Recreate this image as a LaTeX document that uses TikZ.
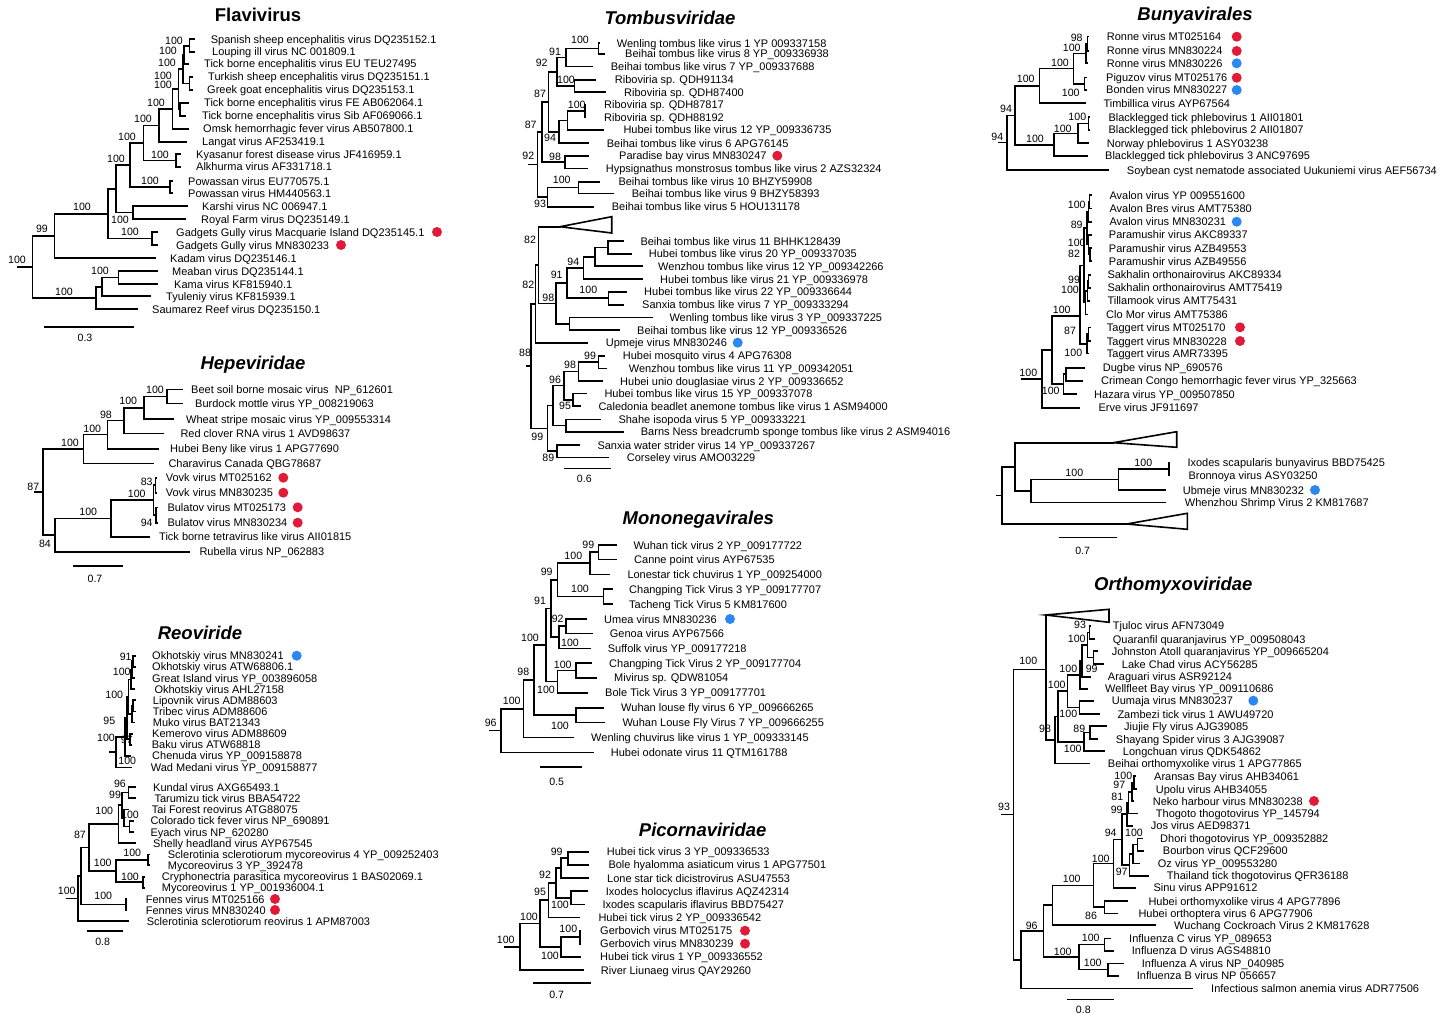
\documentclass[tikz,border=0pt]{standalone}
\usepackage{fontspec}
\setmainfont{Liberation Sans}
\definecolor{dred}{RGB}{226,26,58}
\definecolor{dblue}{RGB}{45,135,240}
\tikzset{
  br/.style={line width=1.6pt,line join=miter,line cap=rect},
  lab/.style={anchor=west,inner sep=0pt,text height=8pt,text depth=0pt,font=\fontsize{11}{12}\selectfont},
  bsl/.style={inner sep=0pt,text height=7.5pt,text depth=0pt,font=\fontsize{10.6}{12}\selectfont},
  ttl/.style={inner sep=0pt,font=\fontsize{18.5}{20}\selectfont\bfseries\itshape},
  ttlu/.style={inner sep=0pt,font=\fontsize{18.5}{20}\selectfont\bfseries},
  vdot/.style={circle,inner sep=0pt,minimum size=10pt},
  tri/.style={line width=1.6pt,line join=miter}
}
\newcommand{\tlf}[5]{\coordinate (#1) at (#2,#3);\node[lab] (#1t) at (#4,#3) {#5};}
\newcommand{\tnd}[5]{\coordinate (#1) at (#2,#3);\draw[br] (#4) -| (#1) |- (#5);}
\newcommand{\tbs}[4]{\node[bsl] (#1) at (#2,#3) {#4};}
\newcommand{\tdot}[4]{\node[vdot,fill=#4] (#1) at (#2,#3) {};}
\newcommand{\tstub}[4]{\coordinate (#1) at (#2,#3);\draw[br] (#1) -- (#4);}
\newcommand{\tscale}[7]{\coordinate (#1a) at (#2,#4);\coordinate (#1b) at (#3,#4);\draw[br] (#1a) -- (#1b);\node[bsl] (#1l) at (#5,#6) {#7};}
\begin{document}
\begin{tikzpicture}[x=1pt,y=-1pt]
\fill[white] (0,0) rectangle (1456,1014);
\useasboundingbox (0,0) rectangle (1456,1014);

%% ================= Flavivirus =================
\node[ttlu] (tflav) at (258,15) {Flavivirus};
\tlf{f1}{194}{39.3}{210.7}{Spanish sheep encephalitis virus DQ235152.1}
\tlf{f2}{194}{52}{212}{Louping ill virus NC 001809.1}
\tlf{f3}{188}{64}{204}{Tick borne encephalitis virus EU TEU27495}
\tlf{f4}{192}{77}{208}{Turkish sheep encephalitis virus DQ235151.1}
\tlf{f5}{192}{90}{207}{Greek goat encephalitis virus DQ235153.1}
\tlf{f6}{188}{103}{204}{Tick borne encephalitis virus FE AB062064.1}
\tlf{f7}{185}{116}{202}{Tick borne encephalitis virus Sib AF069066.1}
\tlf{f8}{188}{129}{203}{Omsk hemorrhagic fever virus AB507800.1}
\tlf{f9}{186}{142}{202}{Langat virus AF253419.1}
\tlf{f10}{180}{154}{196}{Kyasanur forest disease virus JF416959.1}
\tlf{f11}{180}{167}{196}{Alkhurma virus AF331718.1}
\tlf{f12}{172}{181}{188}{Powassan virus EU770575.1}
\tlf{f13}{172}{193}{188}{Powassan virus HM440563.1}
\tlf{f14}{187}{206}{202}{Karshi virus NC 006947.1}
\tlf{f15}{185}{219}{201}{Royal Farm virus DQ235149.1}
\tlf{f16}{157}{232}{176}{Gadgets Gully virus Macquarie Island DQ235145.1}
\tlf{f17}{157}{245}{176}{Gadgets Gully virus MN830233}
\tlf{f18}{155}{258}{170}{Kadam virus DQ235146.1}
\tlf{f19}{157}{271}{172}{Meaban virus DQ235144.1}
\tlf{f20}{157}{284}{174}{Kama virus KF815940.1}
\tlf{f21}{150}{296}{166}{Tyuleniy virus KF815939.1}
\tlf{f22}{137}{309}{152}{Saumarez Reef virus DQ235150.1}
\tnd{fa}{189.3}{46}{f1}{f2}
\tnd{fb}{184}{55}{fa}{f3}
\tnd{fc}{189.3}{83.5}{f4}{f5}
\tnd{fd}{180}{109.5}{f6}{f7}
\tnd{fe}{182.7}{69}{fb}{fc}
\tnd{ff}{178.3}{89}{fe}{fd}
\tnd{fg}{172.3}{109}{ff}{f8}
\tnd{fh}{159}{125.5}{fg}{f9}
\tnd{fk}{175.7}{160.5}{f10}{f11}
\tnd{fi}{143.3}{143}{fh}{fk}
\tnd{fp}{170}{187}{f12}{f13}
\tnd{fj}{130}{165}{fi}{fp}
\tnd{fr}{132.7}{212.5}{f14}{f15}
\tnd{fl}{116}{189}{fj}{fr}
\tnd{fgg}{151.7}{238.5}{f16}{f17}
\tnd{fm}{107.7}{214}{fl}{fgg}
\tnd{fn}{54.3}{236}{fm}{f18}
\tnd{fo}{118.3}{277.5}{f19}{f20}
\tnd{fq}{101.7}{287}{fo}{f21}
\tnd{fs}{95.7}{298}{fq}{f22}
\tnd{froot}{32.3}{267}{fn}{fs}
\tstub{fst}{17.3}{267}{froot}
\tbs{fb1}{174}{41}{100}
\tbs{fb2}{168}{51}{100}
\tbs{fb3}{167}{63}{100}
\tbs{fb4}{163}{76}{100}
\tbs{fb5}{163}{85}{100}
\tbs{fb6}{156}{103}{100}
\tbs{fb7}{143}{119}{100}
\tbs{fb8}{127}{137}{100}
\tbs{fb9}{160}{155}{100}
\tbs{fb10}{116}{159}{100}
\tbs{fb11}{150}{181}{100}
\tbs{fb12}{120}{220}{100}
\tbs{fb13}{130}{232}{100}
\tbs{fb14}{82}{207}{100}
\tbs{fb15}{42}{229}{99}
\tbs{fb16}{17}{260}{100}
\tbs{fb17}{100}{271}{100}
\tbs{fb18}{64}{292}{100}
\tdot{fd1}{437}{232}{dred}
\tdot{fd2}{341}{245}{dred}
\tscale{fsc}{45}{133}{327}{85}{338}{0.3}

%% ================= Hepeviridae =================
\node[ttl] (thepe) at (253,365) {Hepeviridae};
\tlf{h1}{181.7}{389.3}{191}{Beet soil borne mosaic virus\ \ NP\_612601}
\tlf{h2}{181.7}{403.3}{195}{Burdock mottle virus YP\_008219063}
\tlf{h3}{173.3}{419}{186}{Wheat stripe mosaic virus YP\_009553314}
\tlf{h4}{163.3}{433.3}{180.3}{Red clover RNA virus 1 AVD98637}
\tlf{h5}{158.3}{448.7}{170}{Hubei Beny like virus 1 APG77690}
\tlf{h6}{153.3}{463.3}{168.3}{Charavirus Canada QBG78687}
\tlf{h7}{156}{477.7}{165.7}{Vovk virus MT025162}
\tlf{h8}{156}{492.7}{165.7}{Vovk virus MN830235}
\tlf{h9}{157}{507.3}{167.3}{Bulatov virus MT025173}
\tlf{h10}{157}{522.7}{167.3}{Bulatov virus MN830234}
\tlf{h11}{149}{536.7}{159}{Tick borne tetravirus like virus AII01815}
\tlf{h12}{189.3}{551.7}{199.3}{Rubella virus NP\_062883}
\tnd{ha}{166.7}{396.3}{h1}{h2}
\tnd{hb}{144}{407.7}{ha}{h3}
\tnd{hc}{124}{420.5}{hb}{h4}
\tnd{hd}{107.3}{434.6}{hc}{h5}
\tnd{he}{83.3}{449}{hd}{h6}
\tnd{hf}{155.3}{485.2}{h7}{h8}
\tnd{hg}{156}{515}{h9}{h10}
\tnd{hh}{153.3}{500}{hf}{hg}
\tnd{hi}{111}{518.4}{hh}{h11}
\tnd{hj}{55}{535}{hi}{h12}
\tnd{hroot}{42.7}{492}{he}{hj}
\tstub{hst}{35}{492}{hroot}
\tbs{hb1}{155}{389.3}{100}
\tbs{hb2}{128.3}{401}{100}
\tbs{hb3}{106}{414.3}{98}
\tbs{hb4}{92.3}{428.3}{100}
\tbs{hb5}{70}{442.3}{100}
\tbs{hb6}{33.3}{486.7}{87}
\tbs{hb7}{146.7}{481.7}{83}
\tbs{hb8}{136.7}{493.3}{100}
\tbs{hb9}{88.3}{512}{100}
\tbs{hb10}{146.7}{522.7}{94}
\tbs{hb11}{45}{543.3}{84}
\tdot{hd1}{283.3}{477.7}{dred}
\tdot{hd2}{283.3}{492.7}{dred}
\tdot{hd3}{297.7}{507.3}{dred}
\tdot{hd4}{297.7}{522.7}{dred}
\tscale{hsc}{74}{121.7}{566}{95}{579}{0.7}

%% ================= Reoviride =================
\node[ttl] (treo) at (200,633.3) {Reoviride};
\tlf{r1}{135}{655.7}{152}{Okhotskiy virus MN830241}
\tlf{r2}{135}{666.7}{152}{Okhotskiy virus ATW68806.1}
\tlf{r3}{134}{678}{152}{Great Island virus YP\_003896058}
\tlf{r4}{134}{689}{154.3}{Okhotskiy virus AHL27158}
\tlf{r5}{135}{700}{152.7}{Lipovnik virus ADM88603}
\tlf{r6}{135}{711.3}{152.7}{Tribec virus ADM88606}
\tlf{r7}{134}{722.3}{152.7}{Muko virus BAT21343}
\tlf{r8}{132}{733.7}{152}{Kemerovo virus ADM88609}
\tlf{r9}{131}{744.7}{151.7}{Baku virus ATW68818}
\tlf{r10}{130}{755.7}{152}{Chenuda virus YP\_009158878}
\tlf{r11}{130.7}{767.3}{150.7}{Wad Medani virus YP\_009158877}
\tnd{ra}{133}{661.2}{r1}{r2}
\tnd{rb}{132}{669.6}{ra}{r3}
\tnd{rc}{131}{679.3}{rb}{r4}
\tnd{rd}{133}{705.7}{r5}{r6}
\tnd{re}{132}{714}{rd}{r7}
\tnd{rf}{128.5}{696.7}{rc}{re}
\tnd{rg}{130}{739.2}{r8}{r9}
\tnd{rh}{127}{718}{rf}{rg}
\tnd{ri}{125}{736.9}{rh}{r10}
\tnd{rroot}{115.7}{752}{ri}{r11}
\tstub{rst}{110}{752}{rroot}
\tlf{r12}{135}{787}{153}{Kundal virus AXG65493.1}
\tlf{r13}{135}{798}{154.3}{Tarumizu tick virus BBA54722}
\tlf{r14}{128}{809.3}{151.7}{Tai Forest reovirus ATG88075}
\tlf{r15}{132.7}{820.7}{150.3}{Colorado tick fever virus NP\_690891}
\tlf{r16}{132.7}{832}{150.3}{Eyach virus NP\_620280}
\tlf{r17}{135}{843}{153}{Shelly headland virus AYP67545}
\tlf{r18}{148.7}{854.3}{167.7}{Sclerotinia sclerotiorum mycoreovirus 4 YP\_009252403}
\tlf{r19}{148.7}{865}{167.7}{Mycoreovirus 3 YP\_392478}
\tlf{r20}{143.7}{876.7}{161.7}{Cryphonectria parasitica mycoreovirus 1 BAS02069.1}
\tlf{r21}{143.7}{887.7}{161.7}{Mycoreovirus 1 YP\_001936004.1}
\tlf{r22}{126}{899}{145.7}{Fennes virus MT025166}
\tlf{r23}{126}{910}{145.7}{Fennes virus MN830240}
\tlf{r24}{127.7}{921}{146.7}{Sclerotinia sclerotiorum reovirus 1 APM87003}
\tnd{rj}{128.3}{792.5}{r12}{r13}
\tnd{rk}{129.3}{826.3}{r15}{r16}
\tnd{rl}{124}{817.8}{r14}{rk}
\tnd{rm}{122}{805.2}{rj}{rl}
\tnd{rn}{118.3}{824.1}{rm}{r17}
\tnd{ro}{147.7}{859.7}{r18}{r19}
\tnd{rp}{142.7}{882.2}{r20}{r21}
\tnd{rq}{115.7}{870.9}{ro}{rp}
\tnd{rr}{89}{847.5}{rn}{rq}
\tnd{rs}{126}{904.5}{r22}{r23}
\tnd{rt}{81}{876}{rr}{rs}
\tnd{rroott}{77.7}{898.5}{rt}{r24}
\tstub{rstt}{66.7}{898.5}{rroott}
\tbs{rb1}{125.7}{656.7}{91}
\tbs{rb2}{121.7}{671.7}{100}
\tbs{rb3}{114.3}{694.3}{100}
\tbs{rb4}{109.3}{721}{95}
\tbs{rb5}{106}{737.7}{100}
\tbs{rb6}{126.7}{740}{97}
\tbs{rb7}{127.3}{760.7}{100}
\tbs{rb8}{120}{783.3}{96}
\tbs{rb9}{115}{794.3}{99}
\tbs{rb10}{104.3}{811}{100}
\tbs{rb11}{130}{815}{100}
\tbs{rb12}{80}{835}{87}
\tbs{rb13}{132.3}{852.3}{100}
\tbs{rb14}{102.7}{862.3}{100}
\tbs{rb15}{130}{876.7}{100}
\tbs{rb16}{103.3}{895.7}{100}
\tbs{rb17}{66.7}{891}{100}
\tdot{rd1}{296.7}{655.7}{dblue}
\tdot{rd2}{275}{899}{dred}
\tdot{rd3}{275}{910}{dred}
\tscale{rsc}{87.7}{121.7}{931}{102.7}{942}{0.8}

%% ================= Tombusviridae (top) =================
\node[ttl] (ttomb) at (670,18.3) {Tombusviridae};
\tlf{t1}{599.5}{43.3}{616.7}{Wenling tombus like virus 1 YP 009337158}
\tlf{t2}{604}{54}{625}{Beihai tombus like virus 8 YP\_009336938}
\tlf{t3}{591.7}{66.7}{610.7}{Beihai tombus like virus 7 YP\_009337688}
\tlf{t4}{595}{80}{614.7}{Riboviria sp. QDH91134}
\tlf{t5}{605}{92.3}{624}{Riboviria sp. QDH87400}
\tlf{t6}{585}{105}{604}{Riboviria sp. QDH87817}
\tlf{t7}{585}{117.3}{604}{Riboviria sp. QDH88192}
\tlf{t8}{603.3}{130}{623.3}{Hubei tombus like virus 12 YP\_009336735}
\tlf{t9}{588.3}{143.3}{606.7}{Beihai tombus like virus 6 APG76145}
\tlf{t10}{588.3}{155.7}{619}{Paradise bay virus MN830247}
\tlf{t11}{587.3}{168.3}{605.7}{Hypsignathus monstrosus tombus like virus 2 AZS32324}
\tlf{t12}{599.3}{181.7}{618.3}{Beihai tombus like virus 10 BHZY59908}
\tlf{t13}{613.3}{193.3}{631.7}{Beihai tombus like virus 9 BHZY58393}
\tlf{t14}{592.7}{206.7}{611.7}{Beihai tombus like virus 5 HOU131178}
\tnd{ta}{598.3}{48.7}{t1}{t2}
\tnd{tb}{566}{57.7}{ta}{t3}
\tnd{tc}{574.3}{86.2}{t4}{t5}
\tnd{td}{556.7}{72}{tb}{tc}
\tnd{te}{585}{111.2}{t6}{t7}
\tnd{tf}{567.3}{120.6}{te}{t8}
\tnd{tg}{559}{132}{tf}{t9}
\tnd{th}{548.3}{102}{td}{tg}
\tnd{ti}{565}{162}{t10}{t11}
\tnd{tj}{541.7}{132}{th}{ti}
\tnd{tk}{578.3}{187.5}{t12}{t13}
\tnd{tl}{547.3}{197.1}{tk}{t14}
\tnd{troot}{537.3}{164.5}{tj}{tl}
\tstub{tst}{528.3}{164.5}{troot}
\tbs{tb1}{580}{40}{100}
\tbs{tb2}{555}{51.7}{91}
\tbs{tb3}{541.7}{62.3}{92}
\tbs{tb4}{566}{80}{100}
\tbs{tb5}{540}{94}{87}
\tbs{tb6}{576.7}{105}{100}
\tbs{tb7}{530.7}{125}{87}
\tbs{tb8}{550}{137.3}{94}
\tbs{tb9}{555}{156.7}{98}
\tbs{tb10}{528.3}{156}{92}
\tbs{tb11}{561.7}{180}{100}
\tbs{tb12}{540}{203.3}{93}
\tdot{td1}{777.3}{155.7}{dred}

%% ================= Tombusviridae (bottom) =================
\coordinate (tt0) at (560,226.7);
\coordinate (tt1) at (611.7,216.7);
\coordinate (tt2) at (611.7,233);
\draw[tri] (tt0) -- (tt1) -- (tt2) -- cycle;
\tlf{u1}{622.7}{241}{640.3}{Beihai tombus like virus 11 BHHK128439}
\tlf{u2}{630.7}{253.7}{648.7}{Hubei tombus like virus 20 YP\_009337035}
\tlf{u3}{641.7}{266}{658}{Wenzhou tombus like virus 12 YP\_009342266}
\tlf{u4}{641.7}{279}{660}{Hubei tombus like virus 21 YP\_009336978}
\tlf{u5}{625.7}{291.7}{644}{Hubei tombus like virus 22 YP\_009336644}
\tlf{u6}{623.3}{304.7}{642}{Sanxia tombus like virus 7 YP\_009333294}
\tlf{u7}{651.7}{317.3}{669.3}{Wenling tombus like virus 3 YP\_009337225}
\tlf{u8}{619}{330}{637}{Beihai tombus like virus 12 YP\_009336526}
\tlf{u9}{586.7}{342.7}{605.7}{Upmeje virus MN830246}
\tlf{u10}{604}{355.7}{622.7}{Hubei mosquito virus 4 APG76308}
\tlf{u11}{605.7}{368.3}{628.7}{Wenzhou tombus like virus 11 YP\_009342051}
\tlf{u12}{601.7}{381}{620}{Hubei unio douglasiae virus 2 YP\_009336652}
\tlf{u13}{586}{393.3}{604.3}{Hubei tombus like virus 15 YP\_009337078}
\tlf{u14}{580}{406}{598.3}{Caledonia beadlet anemone tombus like virus 1 ASM94000}
\tlf{u15}{600}{419.3}{618.3}{Shahe isopoda virus 5 YP\_009333221}
\tlf{u16}{622.7}{431.7}{640.7}{Barns Ness breadcrumb sponge tombus like virus 2 ASM94016}
\tlf{u17}{579}{445}{597.3}{Sanxia water strider virus 14 YP\_009337267}
\tlf{u18}{608.3}{457.3}{626.7}{Corseley virus AMO03229}
\tnd{ua}{607.7}{247.3}{u1}{u2}
\tnd{ub}{595}{256.7}{ua}{u3}
\tnd{uc}{583.3}{267.8}{ub}{u4}
\tnd{ud}{608.3}{298.2}{u5}{u6}
\tnd{ue}{566.7}{283}{uc}{ud}
\tnd{uf}{569.3}{323.7}{u7}{u8}
\tnd{ug}{556}{303.3}{ue}{uf}
\tnd{uh}{538.3}{265}{tt0}{ug}
\tnd{ui}{535.3}{303.8}{uh}{u9}
\tnd{uj}{598.3}{362}{u10}{u11}
\tnd{uk}{578.3}{371.5}{uj}{u12}
\tnd{ul}{572.7}{399.7}{u13}{u14}
\tnd{um}{564}{385.6}{uk}{ul}
\tnd{un}{566}{425.5}{u15}{u16}
\tnd{uo}{552.7}{405.5}{um}{un}
\tnd{up}{556.7}{451.2}{u17}{u18}
\tnd{uq}{547.3}{428.3}{uo}{up}
\tnd{uroot}{531}{366}{ui}{uq}
\tstub{ust}{526.7}{366}{uroot}
\tbs{ub1}{530}{239.3}{82}
\tbs{ub2}{573.3}{261.7}{94}
\tbs{ub3}{556.7}{275}{91}
\tbs{ub4}{528.3}{285}{82}
\tbs{ub5}{588.3}{290}{100}
\tbs{ub6}{548.3}{297.3}{98}
\tbs{ub7}{525}{352.7}{88}
\tbs{ub8}{590}{355.7}{99}
\tbs{ub9}{570}{364.3}{98}
\tbs{ub10}{555}{379.3}{96}
\tbs{ub11}{565}{406}{95}
\tbs{ub12}{537.3}{436.7}{99}
\tbs{ub13}{548.3}{457.3}{89}
\tdot{ud1}{737.7}{342.7}{dblue}
\tscale{usc}{565}{610}{468.3}{584.3}{478.3}{0.6}

%% ================= Mononegavirales =================
\node[ttl] (tmono) at (698.3,520) {Mononegavirales};
\tlf{m1}{615.7}{545}{633.3}{Wuhan tick virus 2 YP\_009177722}
\tlf{m2}{615.7}{559.3}{634}{Canne point virus AYP67535}
\tlf{m3}{609}{574.3}{627.3}{Lonestar tick chuvirus 1 YP\_009254000}
\tlf{m4}{611.7}{589}{629}{Changping Tick Virus 3 YP\_009177707}
\tlf{m5}{611.7}{604}{629}{Tacheng Tick Virus 5 KM817600}
\tlf{m6}{586}{619}{604}{Umea virus MN830236}
\tlf{m7}{591.7}{633.3}{609.7}{Genoa virus AYP67566}
\tlf{m8}{590}{648.3}{607.7}{Suffolk virus YP\_009177218}
\tlf{m9}{590.7}{663}{609}{Changping Tick Virus 2 YP\_009177704}
\tlf{m10}{595.7}{677.7}{614}{Mivirus sp. QDW81054}
\tlf{m11}{587.3}{692.7}{605}{Bole Tick Virus 3 YP\_009177701}
\tlf{m12}{603.3}{707.7}{621}{Wuhan louse fly virus 6 YP\_009666265}
\tlf{m13}{604}{722.3}{622.3}{Wuhan Louse Fly Virus 7 YP\_009666255}
\tlf{m14}{573.3}{737.3}{591}{Wenling chuvirus like virus 1 YP\_009333145}
\tlf{m15}{592.7}{752.3}{610.7}{Hubei odonate virus 11 QTM161788}
\tnd{ma}{598.3}{552.2}{m1}{m2}
\tnd{mb}{590}{563.2}{ma}{m3}
\tnd{mc}{603.3}{596.5}{m4}{m5}
\tnd{md}{557.3}{579.8}{mb}{mc}
\tnd{me}{566}{626.2}{m6}{m7}
\tnd{mf}{559}{637.2}{me}{m8}
\tnd{mg}{550.7}{608.5}{md}{mf}
\tnd{mh}{576}{670.3}{m9}{m10}
\tnd{mi}{557.3}{681.5}{mh}{m11}
\tnd{mj}{546}{645}{mg}{mi}
\tnd{mk}{576}{715}{m12}{m13}
\tnd{ml}{534}{680}{mj}{mk}
\tnd{mm}{523.3}{708.7}{ml}{m14}
\tnd{mroot}{501}{730.5}{mm}{m15}
\tstub{mst}{489.3}{730.5}{mroot}
\tbs{mb1}{588.3}{544.3}{99}
\tbs{mb2}{573.3}{555.7}{100}
\tbs{mb3}{546.7}{571.7}{99}
\tbs{mb4}{580}{589}{100}
\tbs{mb5}{540}{601}{91}
\tbs{mb6}{557.7}{618.3}{92}
\tbs{mb7}{530}{637.3}{100}
\tbs{mb8}{570}{642.3}{100}
\tbs{mb9}{562.7}{664.3}{100}
\tbs{mb10}{523.3}{671.7}{98}
\tbs{mb11}{546}{690}{100}
\tbs{mb12}{511.7}{700.7}{100}
\tbs{mb13}{490.7}{722.3}{96}
\tbs{mb14}{560}{725.7}{100}
\tdot{md1}{730}{619}{dblue}
\tscale{msc}{541}{580.7}{766.7}{556.7}{781.7}{0.5}

%% ================= Picornaviridae =================
\node[ttl] (tpico) at (702.7,830) {Picornaviridae};
\tlf{p1}{588.3}{851.7}{606.7}{Hubei tick virus 3 YP\_009336533}
\tlf{p2}{588.3}{864.7}{608.3}{Bole hyalomma asiaticum virus 1 APG77501}
\tlf{p3}{588.3}{878}{607}{Lone star tick dicistrovirus ASU47553}
\tlf{p4}{586.7}{891}{605.7}{Ixodes holocyclus iflavirus AQZ42314}
\tlf{p5}{584}{904.3}{602.3}{Ixodes scapularis iflavirus BBD75427}
\tlf{p6}{579}{917.3}{598.3}{Hubei tick virus 2 YP\_009336542}
\tlf{p7}{580}{930.7}{600}{Gerbovich virus MT025175}
\tlf{p8}{580}{943.7}{600}{Gerbovich virus MN830239}
\tlf{p9}{580}{956.7}{600}{Hubei tick virus 1 YP\_009336552}
\tlf{p10}{583.3}{970}{600.7}{River Liunaeg virus QAY29260}
\tnd{pa}{567.7}{858.2}{p1}{p2}
\tnd{pb}{560.7}{868.1}{pa}{p3}
\tnd{pc}{570.7}{897.7}{p4}{p5}
\tnd{pd}{556}{882.9}{pb}{pc}
\tnd{pe}{548.3}{900.1}{pd}{p6}
\tnd{pf}{580}{937.2}{p7}{p8}
\tnd{pg}{560.7}{947}{pf}{p9}
\tnd{ph}{540}{923.5}{pe}{pg}
\tnd{proot}{520}{946.8}{ph}{p10}
\tstub{pst}{505}{946.8}{proot}
\tbs{pb1}{556.7}{851.7}{99}
\tbs{pb2}{545}{875}{92}
\tbs{pb3}{540}{891.7}{95}
\tbs{pb4}{560}{905}{100}
\tbs{pb5}{529}{916.7}{100}
\tbs{pb6}{568.3}{928.3}{100}
\tbs{pb7}{505.7}{939.3}{100}
\tbs{pb8}{550}{955.7}{100}
\tdot{pd1}{745}{930.7}{dred}
\tdot{pd2}{745}{943.7}{dred}
\tscale{psc}{534}{590}{982.7}{556.7}{994.3}{0.7}

%% ================= Bunyavirales (top) =================
\node[ttl] (tbuny) at (1195,16) {Bunyavirales};
\tlf{b1}{1088.3}{36.7}{1106.7}{Ronne virus MT025164}
\tlf{b2}{1088.3}{51}{1106.7}{Ronne virus MN830224}
\tlf{b3}{1087.3}{63.3}{1106.7}{Ronne virus MN830226}
\tlf{b4}{1086}{77.7}{1106}{Piguzov virus MT025176}
\tlf{b5}{1086}{90}{1106}{Bonden virus MN830227}
\tlf{b6}{1085}{103.3}{1103.3}{Timbillica virus AYP67564}
\tlf{b7}{1089.3}{117.3}{1108.3}{Blacklegged tick phlebovirus 1 AII01801}
\tlf{b8}{1089.3}{130}{1108.3}{Blacklegged tick phlebovirus 2 AII01807}
\tlf{b9}{1088.3}{143.3}{1106.7}{Norway phlebovirus 1 ASY03238}
\tlf{b10}{1086.7}{156}{1105}{Blacklegged tick phlebovirus 3 ANC97695}
\tlf{b11}{1108.3}{170}{1126.7}{Soybean cyst nematode associated Uukuniemi virus AEF56734}
\tnd{ba}{1087.3}{43.8}{b1}{b2}
\tnd{bb}{1086}{53.6}{ba}{b3}
\tnd{bc}{1084.3}{83.8}{b4}{b5}
\tnd{bd}{1073.3}{68.7}{bb}{bc}
\tnd{be}{1039.3}{86}{bd}{b6}
\tnd{bf}{1088.3}{123.7}{b7}{b8}
\tnd{bg}{1077.7}{133.5}{bf}{b9}
\tnd{bh}{1054}{144.8}{bg}{b10}
\tnd{bi}{1015}{115.4}{be}{bh}
\tnd{broot}{1006.7}{142.7}{bi}{b11}
\tstub{bst}{998.3}{142.7}{broot}
\tbs{bb1}{1076.7}{37.3}{98}
\tbs{bb2}{1071.7}{47.7}{100}
\tbs{bb3}{1060}{62.3}{100}
\tbs{bb4}{1025.7}{79}{100}
\tbs{bb5}{1070.7}{92.7}{100}
\tbs{bb6}{1006}{108.3}{94}
\tbs{bb7}{1077.3}{116.7}{100}
\tbs{bb8}{1062.7}{128.3}{100}
\tbs{bb9}{997.3}{136.7}{94}
\tbs{bb10}{1035}{138.3}{100}
\tdot{bd1}{1236.7}{36.7}{dred}
\tdot{bd2}{1236.7}{51}{dred}
\tdot{bd3}{1236.7}{63.3}{dblue}
\tdot{bd4}{1236.7}{77.7}{dred}
\tdot{bd5}{1236.7}{90}{dblue}

%% ================= Bunyavirales (middle) =================
\tlf{c1}{1091}{195}{1109.3}{Avalon virus YP 009551600}
\tlf{c2}{1091}{208.3}{1109.3}{Avalon Bres virus AMT75380}
\tlf{c3}{1091}{221.7}{1109.3}{Avalon virus MN830231}
\tlf{c4}{1091}{234.7}{1108.7}{Paramushir virus AKC89337}
\tlf{c5}{1091}{248}{1108.7}{Paramushir virus AZB49553}
\tlf{c6}{1091}{261}{1108.7}{Paramushir virus AZB49556}
\tlf{c7}{1090}{274.7}{1107.3}{Sakhalin orthonairovirus AKC89334}
\tlf{c8}{1090}{287.7}{1107.3}{Sakhalin orthonairovirus AMT75419}
\tlf{c9}{1089}{300.7}{1107.3}{Tillamook virus AMT75431}
\tlf{c10}{1087}{314.3}{1106}{Clo Mor virus AMT75386}
\tlf{c11}{1090}{327.3}{1106.7}{Taggert virus MT025170}
\tlf{c12}{1090}{341}{1106.7}{Taggert virus MN830228}
\tlf{c13}{1088}{353.3}{1106.7}{Taggert virus AMR73395}
\tlf{c14}{1084.3}{367.7}{1102.7}{Dugbe virus NP\_690576}
\tlf{c15}{1081.7}{380.7}{1101}{Crimean Congo hemorrhagic fever virus YP\_325663}
\tlf{c16}{1076}{394}{1094}{Hazara virus YP\_009507850}
\tlf{c17}{1079.3}{407.7}{1098.3}{Erve virus JF911697}
\tnd{ca}{1089.5}{201.7}{c1}{c2}
\tnd{cb}{1088.5}{211.7}{ca}{c3}
\tnd{cc}{1090}{254.5}{c5}{c6}
\tnd{cd}{1088.5}{244.6}{c4}{cc}
\tnd{ce}{1087}{228.2}{cb}{cd}
\tnd{cf}{1088.5}{281.2}{c7}{c8}
\tnd{cg}{1087.5}{291}{cf}{c9}
\tnd{ch}{1085.5}{302.6}{cg}{c10}
\tnd{ci}{1084}{265.4}{ce}{ch}
\tnd{cj}{1088.5}{334.2}{c11}{c12}
\tnd{ck}{1087}{343.7}{cj}{c13}
\tnd{cl}{1080}{316}{ci}{ck}
\tnd{cm}{1066}{374.2}{c14}{c15}
\tnd{cn}{1063.3}{384}{cm}{c16}
\tnd{co}{1051.7}{350}{cl}{cn}
\tnd{croot}{1041.7}{378.8}{co}{c17}
\tstub{cst}{1021.7}{378.8}{croot}
\tbs{cb1}{1076.7}{205}{100}
\tbs{cb2}{1076.7}{224.3}{89}
\tbs{cb3}{1076.7}{242.7}{100}
\tbs{cb4}{1074}{254}{82}
\tbs{cb5}{1074}{279.3}{99}
\tbs{cb6}{1070}{289.3}{100}
\tbs{cb7}{1061.7}{309.3}{100}
\tbs{cb8}{1070}{331}{87}
\tbs{cb9}{1073.3}{352.7}{100}
\tbs{cb10}{1028.3}{372.7}{100}
\tbs{cb11}{1050.7}{390.7}{100}
\tdot{cd1}{1236.7}{221.7}{dblue}
\tdot{cd2}{1240}{327.3}{dred}
\tdot{cd3}{1240}{341}{dred}

%% ================= Bunyavirales (bottom) =================
\coordinate (bt1) at (1113.3,442.7);
\coordinate (bt1a) at (1176.7,431.7);
\coordinate (bt1b) at (1176.7,447.3);
\draw[tri] (bt1) -- (bt1a) -- (bt1b) -- cycle;
\coordinate (bt2) at (1126.7,524);
\coordinate (bt2a) at (1187.3,513.3);
\coordinate (bt2b) at (1187.3,529.3);
\draw[tri] (bt2) -- (bt2a) -- (bt2b) -- cycle;
\tlf{d1}{1169}{462.7}{1187.3}{Ixodes scapularis bunyavirus BBD75425}
\tlf{d2}{1169}{475}{1188.3}{Bronnoya virus ASY03250}
\tlf{d3}{1165}{490}{1182.7}{Ubmeje virus MN830232}
\tlf{d4}{1165}{502.3}{1184.7}{Whenzhou Shrimp Virus 2 KM817687}
\tnd{da}{1169}{468.8}{d1}{d2}
\tnd{db}{1118.3}{479.4}{da}{d3}
\tnd{dc}{1030.7}{490.8}{db}{d4}
\tnd{dd}{1015}{466.7}{bt1}{dc}
\tnd{droot}{1001.7}{495.3}{dd}{bt2}
\tstub{dst}{996.7}{495.3}{droot}
\tbs{db1}{1143.3}{462.3}{100}
\tbs{db2}{1074.3}{472.3}{100}
\tdot{dd1}{1315}{490}{dblue}
\tscale{dsc}{1060}{1116}{537.3}{1082.7}{550.7}{0.7}

%% ================= Orthomyxoviridae =================
\node[ttl] (torth) at (1173.3,586) {Orthomyxoviridae};
\coordinate (ot) at (1045.7,615);
\coordinate (ota) at (1109,609.3);
\coordinate (otb) at (1109,622.3);
\draw[tri] (ot) -- (ota) -- (otb) -- cycle;
\tlf{o1}{1090}{625.7}{1112.7}{Tjuloc virus AFN73049}
\tlf{o2}{1094}{639}{1112.7}{Quaranfil quaranjavirus YP\_009508043}
\tlf{o3}{1096.7}{651}{1111.7}{Johnston Atoll quaranjavirus YP\_009665204}
\tlf{o4}{1102.7}{664}{1121.7}{Lake Chad virus ACY56285}
\tlf{o5}{1090}{676.7}{1107.7}{Araguari virus ASR92124}
\tlf{o6}{1086.7}{688.7}{1105}{Wellfleet Bay virus YP\_009110686}
\tlf{o7}{1093.3}{700.7}{1111.7}{Uumaja virus MN830237}
\tlf{o8}{1099}{714}{1117.3}{Zambezi tick virus 1 AWU49720}
\tlf{o9}{1106}{726}{1124}{Jiujie Fly virus AJG39085}
\tlf{o10}{1097.3}{739}{1115.7}{Shayang Spider virus 3 AJG39087}
\tlf{o11}{1104.3}{751}{1122.7}{Longchuan virus QDK54862}
\tlf{o12}{1089}{763.3}{1107.7}{Beihai orthomyxolike virus 1 APG77865}
\tlf{o13}{1135}{776}{1154}{Aransas Bay virus AHB34061}
\tlf{o14}{1136}{789}{1155.7}{Upolu virus AHB34055}
\tlf{o15}{1133.3}{801}{1152.7}{Neko harbour virus MN830238}
\tlf{o16}{1136.7}{813.3}{1155.7}{Thogoto thogotovirus YP\_145794}
\tlf{o17}{1132.3}{825.7}{1150.7}{Jos virus AED98371}
\tlf{o18}{1141.7}{838.3}{1160}{Dhori thogotovirus YP\_009352882}
\tlf{o19}{1143.3}{850.7}{1162.7}{Bourbon virus QCF29600}
\tlf{o20}{1139}{863.3}{1157.7}{Oz virus YP\_009553280}
\tlf{o21}{1148.3}{875.7}{1166.7}{Thailand tick thogotovirus QFR36188}
\tlf{o22}{1135}{887.7}{1153.3}{Sinu virus APP91612}
\tlf{o23}{1126.7}{901}{1148.3}{Hubei orthomyxolike virus 4 APG77896}
\tlf{o24}{1116.7}{913.3}{1138.3}{Hubei orthoptera virus 6 APG77906}
\tlf{o25}{1155}{925}{1174}{Wuchang Cockroach Virus 2 KM817628}
\tlf{o26}{1110}{938.3}{1129}{Influenza C virus YP\_089653}
\tlf{o27}{1112.7}{950.7}{1131.7}{Influenza D virus AGS48810}
\tlf{o28}{1123.3}{963.3}{1141.7}{Influenza A virus NP\_040985}
\tlf{o29}{1117.7}{975.7}{1136.7}{Influenza B virus NP 056657}
\tlf{o30}{1192.3}{988.3}{1211}{Infectious salmon anemia virus ADR77506}
\tnd{oa}{1089.3}{632.3}{o1}{o2}
\tnd{ob}{1093.3}{657.5}{o3}{o4}
\tnd{oc}{1087.3}{644.9}{oa}{ob}
\tnd{od}{1081.7}{660.8}{oc}{o5}
\tnd{oe}{1080}{674.7}{od}{o6}
\tnd{of}{1079.3}{707.3}{o7}{o8}
\tnd{og}{1067.3}{691}{oe}{of}
\tnd{oh}{1090}{732.5}{o9}{o10}
\tnd{oi}{1084}{741.8}{oh}{o11}
\tnd{oj}{1058}{716.4}{og}{oi}
\tnd{ok}{1054.7}{739.9}{oj}{o12}
\tnd{ol}{1045.7}{669.3}{ot}{ok}
\tnd{om}{1134}{782.5}{o13}{o14}
\tnd{on}{1131.7}{791.7}{om}{o15}
\tnd{oo}{1128.3}{802.5}{on}{o16}
\tnd{op}{1126.7}{814}{oo}{o17}
\tnd{oq}{1137.3}{844.5}{o18}{o19}
\tnd{or}{1132.7}{853.9}{oq}{o20}
\tnd{os}{1129.3}{864.8}{or}{o21}
\tnd{ou}{1121.7}{839.4}{op}{os}
\tnd{ov}{1113.3}{863.5}{ou}{o22}
\tnd{ow}{1104.3}{907.2}{o23}{o24}
\tnd{ox}{1093.3}{885.3}{ov}{ow}
\tnd{oy}{1052.3}{905.2}{ox}{o25}
\tnd{oz}{1104.3}{944.5}{o26}{o27}
\tnd{oA}{1107.7}{969.5}{o28}{o29}
\tnd{oB}{1079}{957}{oz}{oA}
\tnd{oC}{1043.3}{931.1}{oy}{oB}
\tnd{oD}{1020.7}{959.7}{oC}{o30}
\tnd{oroot}{1013.3}{814.5}{ol}{oD}
\tstub{ost}{1001.7}{814.5}{oroot}
\tbs{ob1}{1080}{625}{93}
\tbs{ob2}{1076.7}{638.3}{100}
\tbs{ob3}{1028.3}{660.7}{100}
\tbs{ob4}{1068.3}{669}{100}
\tbs{ob5}{1091.7}{669}{99}
\tbs{ob6}{1056.7}{684.3}{100}
\tbs{ob7}{1068.3}{713.3}{100}
\tbs{ob8}{1079.3}{728.3}{89}
\tbs{ob9}{1045}{728.3}{98}
\tbs{ob10}{1072.7}{749}{100}
\tbs{ob11}{1123.3}{776}{100}
\tbs{ob12}{1119.3}{785}{97}
\tbs{ob13}{1117.3}{796.7}{81}
\tbs{ob14}{1004}{806.7}{93}
\tbs{ob15}{1116.7}{809.3}{99}
\tbs{ob16}{1110.7}{832.7}{94}
\tbs{ob17}{1134}{832.7}{100}
\tbs{ob18}{1100.7}{859}{100}
\tbs{ob19}{1121.7}{871.7}{97}
\tbs{ob20}{1071.7}{879}{100}
\tbs{ob21}{1091}{915.7}{86}
\tbs{ob22}{1031.7}{925.7}{96}
\tbs{ob23}{1090.7}{937.7}{100}
\tbs{ob24}{1062.7}{951.7}{100}
\tbs{ob25}{1092.7}{962.3}{100}
\tdot{od1}{1253.3}{700.7}{dblue}
\tdot{od2}{1314}{801}{dred}
\tscale{osc}{1067.7}{1113.3}{999.3}{1083.3}{1009.3}{0.8}
\end{tikzpicture}
\end{document}
